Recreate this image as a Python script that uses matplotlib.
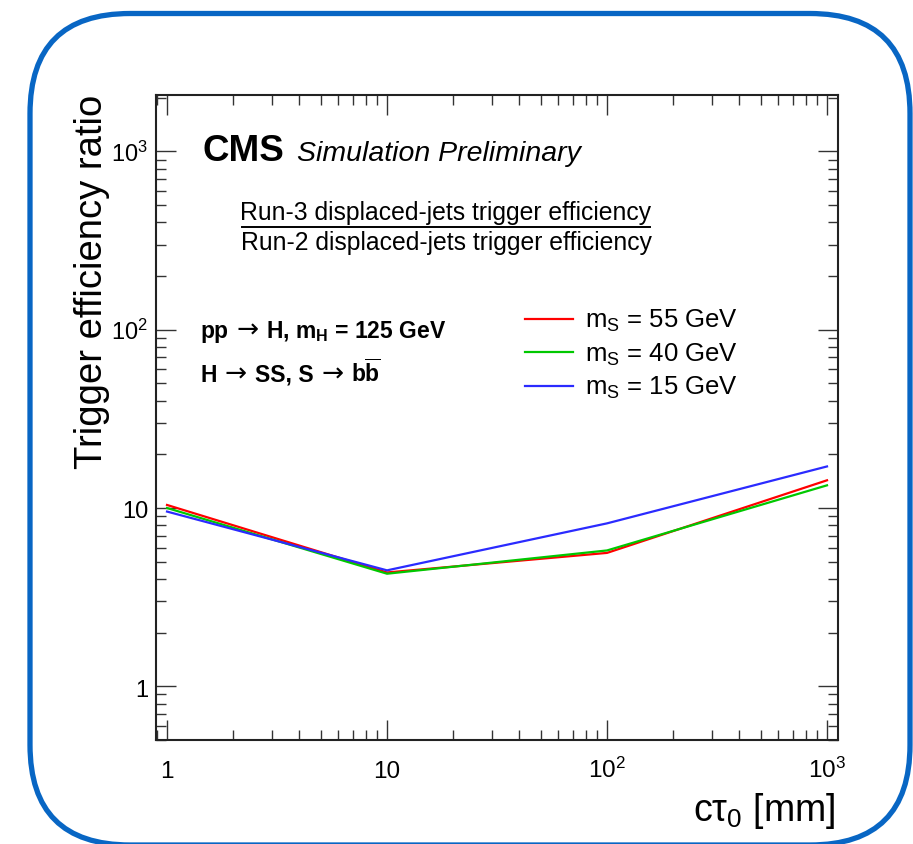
import matplotlib
matplotlib.use("Agg")
import matplotlib.pyplot as plt
from matplotlib.patches import FancyBboxPatch
from matplotlib.transforms import IdentityTransform, ScaledTranslation, blended_transform_factory
from matplotlib.ticker import LogLocator, NullFormatter, FixedLocator

# Data
ctau = [1, 10, 100, 1000]
ratio_ms55 = [10.4, 4.35, 5.6, 14.3]
ratio_ms40 = [10.0, 4.28, 5.78, 13.4]
ratio_ms15 = [9.55, 4.47, 8.2, 17.1]
series_labels = [r"m$_\mathrm{S}$ = 55 GeV", r"m$_\mathrm{S}$ = 40 GeV", r"m$_\mathrm{S}$ = 15 GeV"]
series_colors = ["#ff0000", "#00c800", "#2b2bff"]
x_tick_values = [1, 10, 100, 1000]
x_tick_labels = ["1", "10", r"10$^{2}$", r"10$^{3}$"]
y_tick_values = [1, 10, 100, 1000]
y_tick_labels = ["1", "10", r"10$^{2}$", r"10$^{3}$"]

plt.rcParams["font.family"] = ["Liberation Sans", "DejaVu Sans"]
plt.rcParams["mathtext.fontset"] = "custom"
plt.rcParams["mathtext.rm"] = "Liberation Sans"
plt.rcParams["mathtext.it"] = "Liberation Sans:italic"
plt.rcParams["mathtext.bf"] = "Liberation Sans:bold"

W, H = 913, 844
fig = plt.figure(figsize=(W / 100, H / 100), dpi=100)


def fx(px):
    return px / W


def fy(py):
    return 1 - py / H


def text_runs(x0, y0, runs, gap=8):
    """Write pieces of text one after another on one baseline (pixel coords)."""
    renderer = fig.canvas.get_renderer()
    x = x0
    for s, kw in runs:
        t = fig.text(fx(x), fy(y0), s, va="baseline", **kw)
        x += t.get_window_extent(renderer=renderer).width + gap


ax = fig.add_axes([fx(156), fy(740), fx(838) - fx(156), fy(95) - fy(740)])

for y, col, lab in zip([ratio_ms55, ratio_ms40, ratio_ms15], series_colors, series_labels):
    ax.plot(ctau, y, color=col, lw=1.6, label=lab)

ax.set_xscale("log")
ax.set_yscale("log")
ax.set_xlim(0.891, 1122)
ax.set_ylim(0.5, 2070)

# ROOT-like ticks: inside, on all four sides
ax.xaxis.set_major_locator(FixedLocator(x_tick_values))
ax.yaxis.set_major_locator(FixedLocator(y_tick_values))
ax.xaxis.set_minor_locator(LogLocator(base=10, subs=range(2, 10)))
ax.yaxis.set_minor_locator(LogLocator(base=10, subs=range(2, 10)))
ax.xaxis.set_minor_formatter(NullFormatter())
ax.yaxis.set_minor_formatter(NullFormatter())
ax.set_xticklabels([])
ax.set_yticklabels([])
ax.tick_params(which="both", direction="in", top=True, right=True, color="#333333")
ax.tick_params(which="major", length=14.5, width=1.0)
ax.tick_params(which="minor", length=7.5, width=1.0)
for sp in ax.spines.values():
    sp.set_linewidth(1.5)
    sp.set_color("#222222")

# tick labels placed by hand so the baselines line up like in ROOT
bx = blended_transform_factory(ax.transData, ax.transAxes)
by = blended_transform_factory(ax.transAxes, ax.transData)
for v, lab in zip(x_tick_values, x_tick_labels):
    ax.text(v, 0, lab, transform=bx + ScaledTranslation(0, -0.375, fig.dpi_scale_trans),
            ha="center", va="baseline", fontsize=17.5)
for v, lab in zip(y_tick_values, y_tick_labels):
    ax.text(0, v, lab, transform=by + ScaledTranslation(-0.08, -0.105, fig.dpi_scale_trans),
            ha="right", va="baseline", fontsize=17)

# axis titles
fig.text(fx(92), fy(95), "Trigger efficiency ratio", rotation=90, ha="center", va="top", fontsize=27.5)
fig.text(fx(836), fy(821), "cτ$_{0}$ [mm]", ha="right", va="baseline", fontsize=27)

# CMS label
fig.text(fx(202), fy(161), "CMS", fontsize=26.5, fontweight="bold", va="baseline")
fig.text(fx(297), fy(161), "Simulation Preliminary", fontsize=20.5, fontstyle="italic", va="baseline")

# fraction
fig.text(fx(446), fy(220), "Run-3 displaced-jets trigger efficiency", fontsize=17.8, ha="center", va="baseline")
fig.text(fx(446), fy(250), "Run-2 displaced-jets trigger efficiency", fontsize=17.8, ha="center", va="baseline")
fig.add_artist(plt.Line2D([fx(242), fx(650)], [fy(227), fy(227)], color="black", lw=1.4))

# process text, the arrow taken from DejaVu Sans for a longer glyph
bold = dict(fontsize=16.5, fontweight="bold")
arrow = dict(fontsize=19, family="DejaVu Sans")
text_runs(200, 338, [("pp", bold), ("→", arrow), (r"H, m$_{\mathbf{H}}$ = 125 GeV", bold)])
text_runs(200, 382, [("H", bold), ("→", arrow), ("SS, S", bold), ("→", arrow),
                     (r"b$\overline{\mathbf{b}}$", bold)])

ax.legend(loc="upper left", bbox_to_anchor=((525 - 156) / 682, 1 - (308 - 95) / 645),
          frameon=False, fontsize=18.5, handlelength=1.85, handletextpad=0.5,
          labelspacing=0.28, borderpad=0, borderaxespad=0)

# rounded blue frame around the whole picture
frame = FancyBboxPatch((30, H - 845), 880, 845 - 13.5,
                       boxstyle="round,pad=0,rounding_size=100",
                       transform=IdentityTransform(), fill=False,
                       edgecolor="#0866c4", lw=3.8, clip_on=False)
fig.add_artist(frame)

fig.savefig("out.png", dpi=100)
